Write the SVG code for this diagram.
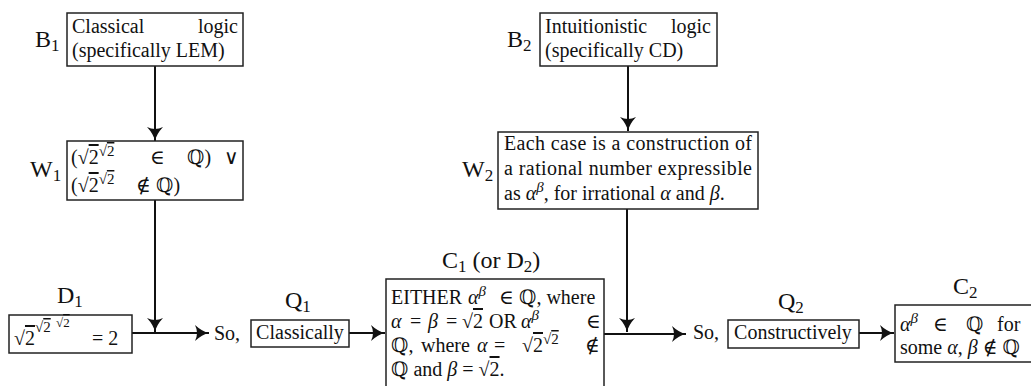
<svg xmlns="http://www.w3.org/2000/svg" width="1031" height="386" viewBox="0 0 1031 386">
<style>
.box{fill:#fff;stroke:#222;stroke-width:1.5}
.t{font-family:"Liberation Serif","DejaVu Serif",serif;font-size:20px;fill:#111}
.lbl{font-size:24px}
.sub{font-size:17px}
.sup{font-size:15px}
.sup2{font-size:13px}
.m{font-style:italic}
.ov{text-decoration:overline}
.conn{stroke:#111;stroke-width:2;fill:none;marker-end:url(#ah)}
</style>
<defs>
<marker id="ah" markerUnits="userSpaceOnUse" markerWidth="16" markerHeight="18" refX="14" refY="8" orient="auto">
<path d="M0,0 Q7,6.5 14,8 Q7,9.5 0,16 Q4,8 0,0 z" fill="#111"/>
</marker>
</defs>
<rect width="1031" height="386" fill="#fff"/>

<g id="connectors">
<path class="conn" d="M155,66 V141"/>
<path class="conn" d="M155,200 V332"/>
<path class="conn" d="M132,333 H209"/>
<path class="conn" d="M349,333 H385"/>
<path class="conn" d="M628,66 V131"/>
<path class="conn" d="M627,209 V332"/>
<path class="conn" d="M604,334 H686"/>
<path class="conn" d="M859,333 H894"/>
</g>

<g id="B1">
<text class="t lbl" x="35" y="47">B<tspan class="sub" dy="4">1</tspan></text>
<rect class="box" x="67" y="13" width="176" height="53"/>
<text class="t" x="72" y="33">Classical</text>
<text class="t" x="238" y="33" text-anchor="end">logic</text>
<text class="t" x="72" y="57">(specifically LEM)</text>
</g>

<g id="W1">
<text class="t lbl" x="30" y="177">W<tspan class="sub" dy="4">1</tspan></text>
<rect class="box" x="67" y="141" width="176" height="59"/>
<text class="t" x="71" y="164">(√<tspan class="ov">2</tspan><tspan class="sup" dy="-8">√<tspan class="ov">2</tspan></tspan><tspan x="150" dy="8">∈</tspan><tspan x="187">ℚ)</tspan><tspan x="224">∨</tspan></text>
<text class="t" x="71" y="192">(√<tspan class="ov">2</tspan><tspan class="sup" dy="-8">√<tspan class="ov">2</tspan></tspan><tspan x="136" dy="8">∉</tspan><tspan x="156">ℚ)</tspan></text>
</g>

<g id="D1">
<text class="t lbl" x="57" y="303">D<tspan class="sub" dy="4">1</tspan></text>
<rect class="box" x="9" y="315" width="123" height="38"/>
<text class="t" x="14" y="345">√<tspan class="ov">2</tspan></text>
<text class="t sup" x="35" y="332">√<tspan class="ov">2</tspan></text>
<text class="t sup2" x="56" y="327">√<tspan class="ov">2</tspan></text>
<text class="t" x="92" y="345">= 2</text>
</g>

<g id="So1">
<text class="t" x="214" y="340">So,</text>
</g>

<g id="Q1">
<text class="t lbl" x="285" y="308">Q<tspan class="sub" dy="4">1</tspan></text>
<rect class="box" x="251" y="320" width="98" height="27"/>
<text class="t" x="300" y="339" text-anchor="middle">Classically</text>
</g>

<g id="C1">
<text class="t lbl" x="442" y="268">C<tspan class="sub" dy="4">1</tspan><tspan dy="-4"> (or D</tspan><tspan class="sub" dy="4">2</tspan><tspan dy="-4">)</tspan></text>
<rect class="box" x="386" y="279" width="218" height="115"/>
<text class="t" x="391" y="304">EITHER<tspan class="m" x="468">α</tspan><tspan class="sup m" dy="-8">β</tspan><tspan x="499" dy="8">∈</tspan><tspan x="519">ℚ, where</tspan></text>
<text class="t" x="391" y="328"><tspan class="m">α</tspan><tspan x="410">=</tspan><tspan class="m" x="428">β</tspan><tspan x="446">=</tspan><tspan x="462">√<tspan class="ov">2</tspan></tspan><tspan x="489">OR</tspan><tspan class="m" x="521">α</tspan><tspan class="sup m" dy="-8">β</tspan><tspan x="586" dy="8">∈</tspan></text>
<text class="t" x="391" y="352">ℚ,<tspan x="421">where</tspan><tspan class="m" x="477">α</tspan><tspan x="494">=</tspan><tspan x="522">√<tspan class="ov">2</tspan></tspan><tspan class="sup" dy="-8">√<tspan class="ov">2</tspan></tspan><tspan x="585" dy="8">∉</tspan></text>
<text class="t" x="391" y="376">ℚ and <tspan class="m">β</tspan> = √<tspan class="ov">2</tspan>.</text>
</g>

<g id="B2">
<text class="t lbl" x="507" y="47">B<tspan class="sub" dy="4">2</tspan></text>
<rect class="box" x="540" y="13" width="177" height="53"/>
<text class="t" x="545" y="33">Intuitionistic</text>
<text class="t" x="711" y="33" text-anchor="end">logic</text>
<text class="t" x="545" y="57">(specifically CD)</text>
</g>

<g id="W2">
<text class="t lbl" x="462" y="177">W<tspan class="sub" dy="4">2</tspan></text>
<rect class="box" x="498" y="132" width="260" height="77"/>
<text class="t" x="504" y="150" textLength="248" lengthAdjust="spacing">Each case is a construction of</text>
<text class="t" x="504" y="175" textLength="248" lengthAdjust="spacing">a rational number expressible</text>
<text class="t" x="504" y="200">as <tspan class="m">α</tspan><tspan class="sup m" dy="-8">β</tspan><tspan dy="8">, for irrational </tspan><tspan class="m">α</tspan> and <tspan class="m">β</tspan>.</text>
</g>

<g id="So2">
<text class="t" x="693" y="339">So,</text>
</g>

<g id="Q2">
<text class="t lbl" x="778" y="309">Q<tspan class="sub" dy="4">2</tspan></text>
<rect class="box" x="728" y="320" width="131" height="28"/>
<text class="t" x="793" y="339" text-anchor="middle">Constructively</text>
</g>

<g id="C2">
<text class="t lbl" x="953" y="294">C<tspan class="sub" dy="4">2</tspan></text>
<rect class="box" x="895" y="305" width="145" height="57"/>
<text class="t" x="900" y="331"><tspan class="m">α</tspan><tspan class="sup m" dy="-8">β</tspan><tspan x="933" dy="8">∈</tspan><tspan x="966">ℚ</tspan><tspan x="997">for</tspan></text>
<text class="t" x="900" y="354">some <tspan class="m">α</tspan>, <tspan class="m">β</tspan> ∉ ℚ</text>
</g>
</svg>
